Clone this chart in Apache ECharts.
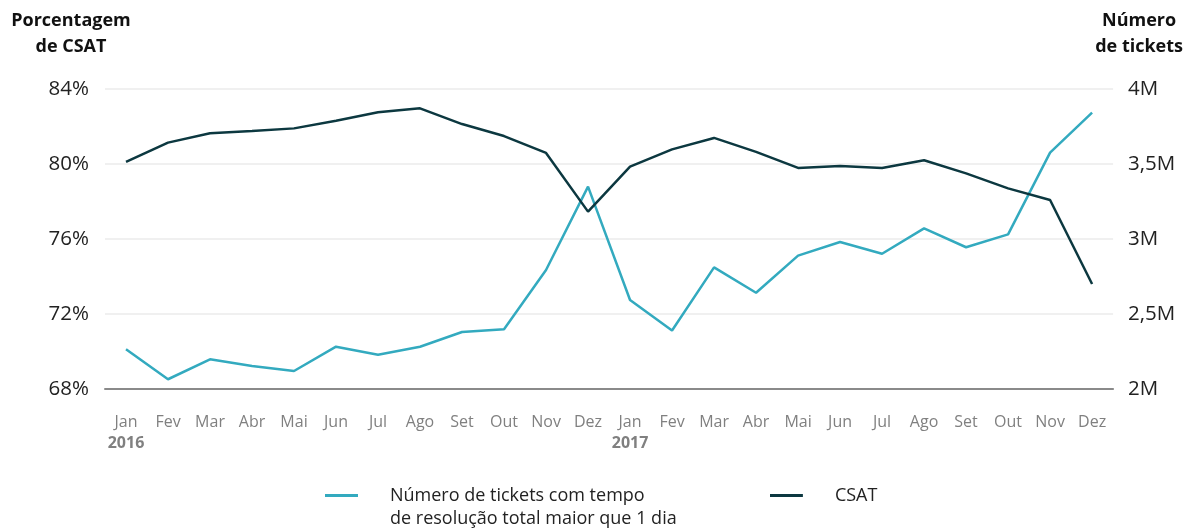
<!DOCTYPE html>
<html>
<head>
<meta charset="utf-8">
<script src="https://cdn.jsdelivr.net/npm/echarts@6/dist/echarts.min.js"></script>
<style>
  html, body { margin: 0; padding: 0; background: #ffffff; }
  #chart { width: 1186px; height: 529px; }
</style>
</head>
<body>
<div id="chart"></div>
<script>
const months = ['Jan','Fev','Mar','Abr','Mai','Jun','Jul','Ago','Set','Out','Nov','Dez',
                'Jan','Fev','Mar','Abr','Mai','Jun','Jul','Ago','Set','Out','Nov','Dez'];
const yearLabels = {0: '2016', 12: '2017'};
const ticketsName = 'Número de tickets com tempo\nde resolução total maior que 1 dia';
const csatName = 'CSAT';
// millions of tickets
const tickets = [2.265, 2.065, 2.198, 2.153, 2.12, 2.282, 2.229, 2.282, 2.38, 2.398, 2.793, 3.349,
                 2.593, 2.39, 2.811, 2.642, 2.889, 2.98, 2.902, 3.071, 2.945, 3.031, 3.576, 3.842];
// CSAT percentage
const csat = [80.11, 81.14, 81.64, 81.76, 81.9, 82.31, 82.76, 82.97, 82.13, 81.49, 80.59, 77.46,
              79.86, 80.78, 81.39, 80.65, 79.79, 79.89, 79.79, 80.2, 79.5, 78.7, 78.08, 73.6];
const leftTicks = [68, 72, 76, 80, 84];
const rightTicks = [2, 2.5, 3, 3.5, 4];

const FONT = 'Open Sans';
const TEAL = '#33aabf';
const DARK = '#0c3840';

const chart = echarts.init(document.getElementById('chart'), null, {renderer: 'canvas'});
chart.setOption({
  backgroundColor: '#ffffff',
  animation: false,
  textStyle: { fontFamily: FONT },
  grid: { left: 105, right: 72, top: 89, bottom: 140, containLabel: false },
  legend: [
    {
      data: [{ name: ticketsName, icon: 'path://M0,0H33V3H0Z M60,26L60,26.01' }],
      left: 325, top: 484, padding: 0,
      itemWidth: 60, itemHeight: 26,
      itemStyle: { borderWidth: 0 },
      textStyle: { fontFamily: FONT, fontSize: 18, color: '#222', lineHeight: 23 },
      selectedMode: false
    },
    {
      data: [{ name: csatName, icon: 'path://M0,0H33V3H0Z M60,3L60,3.01' }],
      left: 770, top: 484, padding: 0,
      itemWidth: 60, itemHeight: 3,
      itemStyle: { borderWidth: 0 },
      textStyle: { fontFamily: FONT, fontSize: 18, color: '#222', lineHeight: 23 },
      selectedMode: false
    }
  ],
  xAxis: {
    type: 'category',
    data: months,
    boundaryGap: true,
    axisLine: { show: true, lineStyle: { color: '#8a8a8a', width: 2 } },
    axisTick: { show: false },
    axisLabel: {
      interval: 0,
      margin: 23,
      fontFamily: FONT,
      fontSize: 16,
      color: '#808080',
      lineHeight: 21,
      formatter: function (v, i) {
        return yearLabels[i] ? v + '\n{y|' + yearLabels[i] + '}' : v;
      },
      rich: {
        y: { fontFamily: FONT, fontSize: 16, fontWeight: 'bold', color: '#808080', lineHeight: 21 }
      }
    }
  },
  yAxis: [
    {
      type: 'value',
      min: leftTicks[0], max: leftTicks[leftTicks.length - 1], interval: 4,
      position: 'left',
      name: 'Porcentagem\nde CSAT',
      nameLocation: 'end',
      nameGap: 29,
      nameTextStyle: { fontFamily: FONT, fontSize: 18, fontWeight: 'bold', color: '#111',
                       lineHeight: 26, align: 'center', padding: [0, 68, 0, 0] },
      axisLine: { show: false },
      axisTick: { show: false },
      splitLine: { show: true, lineStyle: { color: '#ebebeb', width: 1.5 } },
      axisLabel: { margin: 16, fontFamily: FONT, fontSize: 20.5, color: '#222',
                   formatter: function (v) { return v + '%'; } }
    },
    {
      type: 'value',
      min: rightTicks[0], max: rightTicks[rightTicks.length - 1], interval: 0.5,
      position: 'right',
      name: 'Número\nde tickets',
      nameLocation: 'end',
      nameGap: 29,
      nameTextStyle: { fontFamily: FONT, fontSize: 18, fontWeight: 'bold', color: '#111',
                       lineHeight: 26, align: 'center', padding: [0, 0, 0, 52] },
      axisLine: { show: false },
      axisTick: { show: false },
      splitLine: { show: false },
      axisLabel: { margin: 15, fontFamily: FONT, fontSize: 20.5, color: '#222',
                   formatter: function (v) { return String(v).replace('.', ',') + 'M'; } }
    }
  ],
  series: [
    {
      name: ticketsName,
      type: 'line',
      yAxisIndex: 1,
      data: tickets,
      symbol: 'none',
      lineStyle: { color: TEAL, width: 2.5 },
      itemStyle: { color: TEAL },
      z: 3
    },
    {
      name: csatName,
      type: 'line',
      yAxisIndex: 0,
      data: csat,
      symbol: 'none',
      lineStyle: { color: DARK, width: 2.5 },
      itemStyle: { color: DARK },
      z: 4
    }
  ]
});
</script>
</body>
</html>
